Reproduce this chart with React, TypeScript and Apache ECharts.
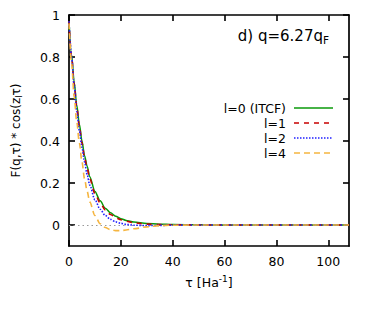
import React, { useEffect, useRef } from "react";
import * as echarts from "echarts";

const tau = [0, 1, 2, 3, 4, 5, 6, 7, 8, 10, 12, 14, 16, 18, 20, 22, 25, 30, 35, 40, 50, 60, 70, 80, 90, 100, 108];
const l0 = [0.97, 0.81, 0.68, 0.57, 0.48, 0.4, 0.33, 0.28, 0.23, 0.16, 0.115, 0.08, 0.058, 0.042, 0.03, 0.022, 0.014, 0.007, 0.004, 0.002, 0.001, 0, 0, 0, 0, 0, 0];
const l1 = [0.97, 0.8, 0.67, 0.56, 0.47, 0.39, 0.32, 0.27, 0.22, 0.15, 0.105, 0.072, 0.05, 0.035, 0.025, 0.018, 0.01, 0.004, 0.002, 0.001, 0, 0, 0, 0, 0, 0, 0];
const l2 = [0.97, 0.8, 0.66, 0.54, 0.45, 0.37, 0.3, 0.24, 0.19, 0.12, 0.075, 0.045, 0.027, 0.015, 0.008, 0.003, -0.001, -0.003, -0.002, -0.001, 0, 0, 0, 0, 0, 0, 0];
const l4 = [0.96, 0.77, 0.61, 0.49, 0.39, 0.3, 0.22, 0.16, 0.11, 0.045, 0.006, -0.012, -0.023, -0.027, -0.027, -0.024, -0.018, -0.009, -0.003, -0.001, 0, 0, 0, 0, 0, 0, 0];

const seriesNames = ["l=0 (ITCF)", "l=1", "l=2", "l=4"];
const seriesValues = [l0, l1, l2, l4];
const colors = ["#0a9a0a", "#c80000", "#2020ff", "#f5b540"];
const lineTypes: any[] = ["solid", [5, 5], [1.5, 1.5], [6, 4]];

const xTicks = [0, 20, 40, 60, 80, 100];
const yTicks = [0, 0.2, 0.4, 0.6, 0.8, 1];

const FONT = "DejaVu Sans";

export default function App() {
  const ref = useRef<HTMLDivElement>(null);
  useEffect(() => {
    if (!ref.current) return;
    const chart = echarts.init(ref.current, undefined, { renderer: "svg" });
    const axisLine = { show: true, onZero: false, lineStyle: { color: "#000", width: 1.7 } };
    const tick = { show: true, inside: true, length: 6, lineStyle: { color: "#000", width: 1.6 } };
    const series: any[] = seriesValues.map((vals, i) => ({
      name: seriesNames[i],
      type: "line",
      data: tau.map((t, j) => [t, vals[j]]),
      showSymbol: false,
      symbol: "none",
      smooth: 0.3,
      smoothMonotone: "x",
      lineStyle: { color: colors[i], width: i === 0 ? 1.5 : 1.6, type: lineTypes[i] },
      itemStyle: { color: colors[i] },
      z: 3 + i,
    }));
    series[0].markLine = {
      silent: true,
      symbol: "none",
      label: { show: false },
      lineStyle: { color: "#999", type: [1.5, 3], width: 1 },
      data: [{ yAxis: 0 }],
      z: 1,
    };
    const legendRows = [108, 123, 138, 153];
    const legendGraphics: any[] = [];
    seriesNames.forEach((name, i) => {
      legendGraphics.push({
        type: "text",
        x: 286,
        y: legendRows[i],
        style: {
          text: name,
          fontFamily: FONT,
          fontSize: 12.5,
          fill: "#000",
          align: "right",
          verticalAlign: "middle",
        },
      });
      legendGraphics.push({
        type: "line",
        shape: { x1: 294, y1: legendRows[i], x2: 333, y2: legendRows[i] },
        style: { stroke: colors[i], lineWidth: i === 0 ? 1.5 : 1.6, lineDash: lineTypes[i] === "solid" ? null : lineTypes[i] },
      });
    });
    chart.setOption({
      animation: false,
      textStyle: { fontFamily: FONT },
      grid: { left: 69, right: 25, top: 15, bottom: 63, containLabel: false },
      title: {
        text: "{a|d) q=6.27q}{s|F}",
        right: 40,
        top: 21,
        textStyle: {
          fontWeight: "normal",
          rich: {
            a: { fontFamily: FONT, fontSize: 15, fontWeight: "normal", color: "#000" },
            s: { fontFamily: FONT, fontSize: 10.5, fontWeight: "normal", color: "#000", padding: [8, 0, 0, 0] },
          },
        },
      },
      graphic: legendGraphics,
      xAxis: [
        {
          type: "value",
          min: 0,
          max: 108,
          name: "{a|τ [Ha}{s|-1}{a|]}",
          nameLocation: "middle",
          nameGap: 28,
          nameTextStyle: {
            rich: {
              a: { fontFamily: FONT, fontSize: 12.5, color: "#000" },
              s: { fontFamily: FONT, fontSize: 9, color: "#000", padding: [0, 0, 7, 0] },
            },
          },
          axisLine,
          axisTick: { ...tick, customValues: xTicks },
          axisLabel: { customValues: xTicks, fontSize: 12.5, color: "#000", margin: 9, fontFamily: FONT },
          splitLine: { show: false },
        },
        {
          type: "value",
          position: "top",
          min: 0,
          max: 108,
          axisLine,
          axisTick: { ...tick, customValues: xTicks },
          axisLabel: { show: false },
          splitLine: { show: false },
        },
      ],
      yAxis: [
        {
          type: "value",
          min: -0.1,
          max: 1,
          name: "{a|F(q,τ) * cos(z}{s|l}{a|τ)}",
          nameLocation: "middle",
          nameGap: 46,
          nameTextStyle: {
            rich: {
              a: { fontFamily: FONT, fontSize: 12, color: "#000" },
              s: { fontFamily: FONT, fontSize: 8.5, color: "#000", padding: [6, 0, 0, 0] },
            },
          },
          axisLine,
          axisTick: { ...tick, customValues: yTicks },
          axisLabel: { customValues: yTicks, fontSize: 12.5, color: "#000", margin: 9, fontFamily: FONT },
          splitLine: { show: false },
        },
        {
          type: "value",
          position: "right",
          min: -0.1,
          max: 1,
          axisLine,
          axisTick: { ...tick, customValues: yTicks },
          axisLabel: { show: false },
          splitLine: { show: false },
        },
      ],
      series,
    });
    return () => chart.dispose();
  }, []);
  return <div ref={ref} style={{ width: 374, height: 309, position: "absolute", left: 0, top: 0, background: "#fff" }} />;
}
